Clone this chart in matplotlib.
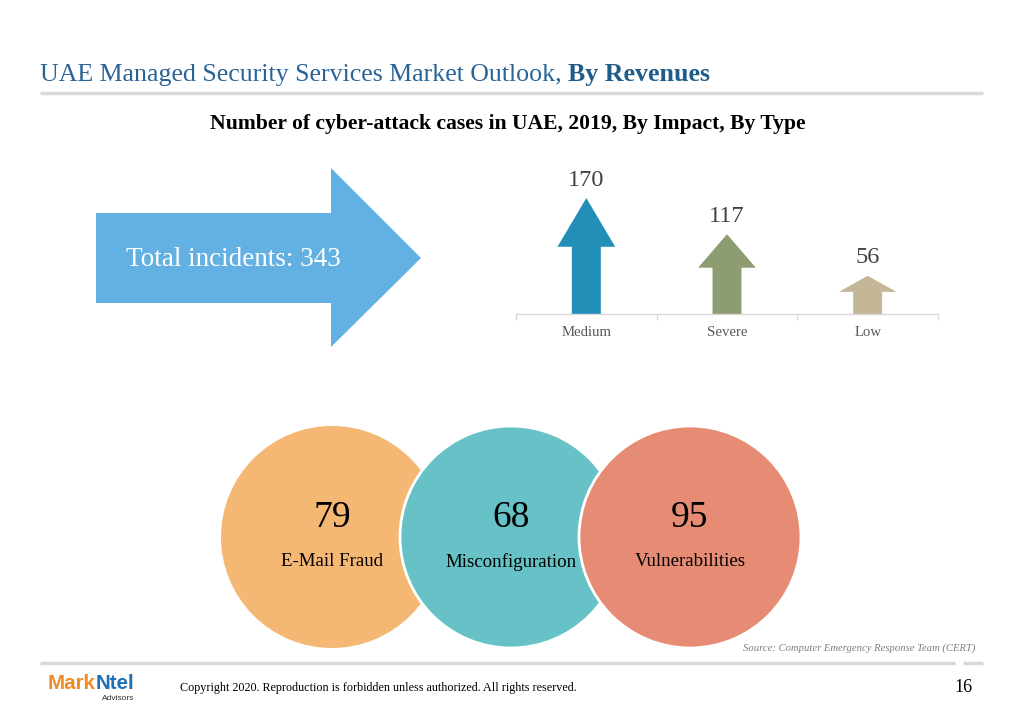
import matplotlib
matplotlib.use("Agg")
import matplotlib.pyplot as plt
from matplotlib.patches import Circle, Polygon

# data
impact_labels = ["Medium", "Severe", "Low"]
impact_values = [170, 117, 56]
impact_colors = ["#238FB8", "#8E9C72", "#C4B797"]

type_labels = ["E-Mail Fraud", "Misconfiguration", "Vulnerabilities"]
type_values = [79, 68, 95]
type_colors = ["#F5B874", "#66C2C6", "#E68C74"]

total_incidents = sum(impact_values)

W, H = 1023, 708
SERIF = "Liberation Serif"

fig = plt.figure(figsize=(W / 100, H / 100), dpi=100)
fig.patch.set_facecolor("white")

# full-page overlay axes in pixel coordinates (y pointing down)
bg = fig.add_axes([0, 0, 1, 1])
bg.set_xlim(0, W)
bg.set_ylim(H, 0)
bg.axis("off")

# header
t1 = bg.text(40, 81, "UAE Managed Security Services Market Outlook, ",
             fontsize=18.6, color="#2A6496", family=SERIF, va="baseline")
bg.annotate("By Revenues", xy=(1, 0), xycoords=t1, va="bottom", ha="left",
            fontsize=18.6, color="#1F5C8A", family=SERIF, fontweight="bold")
bg.plot([40, 983], [93, 93], color="#D9D9D9", lw=2.5, solid_capstyle="butt")
bg.text(508, 124, "Number of cyber-attack cases in UAE, 2019, By Impact, By Type",
        fontsize=15.6, fontweight="bold", family=SERIF, ha="center", va="center",
        color="black")

# big "total" arrow
big_arrow = Polygon([(96, 213), (331, 213), (331, 168), (421, 258),
                     (331, 347), (331, 303), (96, 303)],
                    closed=True, facecolor="#63B0E2", edgecolor="none")
bg.add_patch(big_arrow)
bg.text(126, 259, f"Total incidents: {total_incidents}", fontsize=19.5,
        color="white", family=SERIF, ha="left", va="center")

# overlapping circles for type split
cx0, cy, r, step = 332, 537, 111, 179
for i, (lab, val, col) in enumerate(zip(type_labels, type_values, type_colors)):
    cx = cx0 + i * step
    bg.add_patch(Circle((cx, cy), r, facecolor=col,
                        edgecolor="white" if i else "none", lw=2, zorder=2 + i))
    bg.text(cx, 518, str(val), fontsize=27, family=SERIF, ha="center",
            va="center", color="black", zorder=10)
    bg.text(cx, 562, lab, fontsize=13.6, family=SERIF, ha="center",
            va="center", color="black", zorder=10)

# footer
bg.text(975, 648, "Source: Computer Emergency Response Team (CERT)",
        fontsize=7.7, style="italic", color="#7F7F7F", family=SERIF,
        ha="right", va="center")
bg.plot([40, 955], [663, 663], color="#D9D9D9", lw=2.5, solid_capstyle="butt")
bg.plot([963, 983], [663, 663], color="#D9D9D9", lw=2.5, solid_capstyle="butt")
m1 = bg.text(48, 689, "Mark", fontsize=14.8, fontweight="bold",
             color="#F08A24", family="Liberation Sans", va="baseline")
bg.annotate("Ntel", xy=(1, 0), xycoords=m1, va="bottom", ha="left",
            fontsize=14.8, fontweight="bold", color="#1F6FB5",
            family="Liberation Sans")
bg.text(134, 699, "Advisors", fontsize=6, color="#333333",
        family="Liberation Sans", ha="right", va="center")
bg.text(180, 688, "Copyright 2020. Reproduction is forbidden unless authorized. "
        "All rights reserved.", fontsize=8.7, color="black", family=SERIF,
        va="center")
bg.text(973, 688, "16", fontsize=13, color="black", family=SERIF,
        ha="right", va="center")

# arrow "bar" chart for impact split
ymax = 250
px_per_unit = 0.682
ax_h = ymax * px_per_unit
ax = fig.add_axes([516 / W, (H - 314) / H, 422 / W, ax_h / H])
ax.set_xlim(-0.5, 2.5)
ax.set_ylim(0, ymax)
ax.patch.set_alpha(0)

shaft_w, head_w, head_frac = 0.206, 0.41, 0.42
for i, (val, col) in enumerate(zip(impact_values, impact_colors)):
    hb = val * (1 - head_frac)
    pts = [(i - shaft_w / 2, 0), (i - shaft_w / 2, hb), (i - head_w / 2, hb),
           (i, val), (i + head_w / 2, hb), (i + shaft_w / 2, hb),
           (i + shaft_w / 2, 0)]
    ax.add_patch(Polygon(pts, closed=True, facecolor=col, edgecolor="none"))
    ax.annotate(str(val), xy=(i, val), xytext=(0, 18),
                textcoords="offset pixels", ha="center", va="center",
                fontsize=17.5, color="#404040", family=SERIF)

for s in ["top", "right", "left"]:
    ax.spines[s].set_visible(False)
ax.spines["bottom"].set_color("#D9D9D9")
ax.spines["bottom"].set_linewidth(1)
ax.set_yticks([])
ax.set_xticks(range(len(impact_labels)))
ax.set_xticklabels(impact_labels, family=SERIF, fontsize=10.6, color="#595959")
ax.tick_params(axis="x", which="major", length=0, pad=9)
ax.set_xticks([-0.5, 0.5, 1.5, 2.5], minor=True)
ax.tick_params(axis="x", which="minor", length=4, color="#D9D9D9", width=1)

fig.savefig("out.png", dpi=100)
